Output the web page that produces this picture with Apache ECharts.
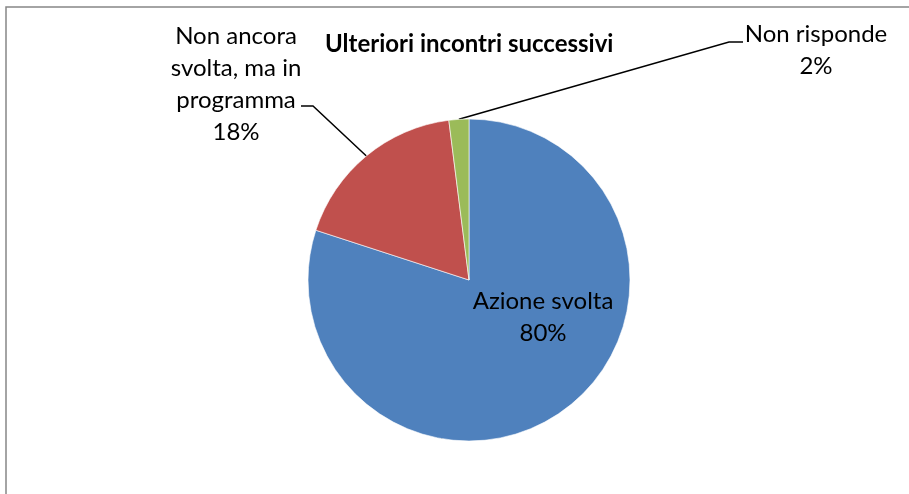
<!DOCTYPE html>
<html>
<head>
<meta charset="utf-8">
<style>
  html, body { margin: 0; padding: 0; background: #fff; }
  #pie-chart { width: 909px; height: 494px; }
</style>
<script src="https://cdn.jsdelivr.net/npm/echarts@6/dist/echarts.min.js"></script>
</head>
<body>
<div id="pie-chart"></div>
<script>
  const TITLE = 'Ulteriori incontri successivi';
  const categories = ['Azione svolta', 'Non ancora\nsvolta, ma in\nprogramma', 'Non risponde'];
  const values = [80, 18, 2];
  const colors = ['#4F81BD', '#C0504D', '#9BBB59'];

  const FONT = 'Lato, "Open Sans", sans-serif';

  // where Excel puts each label (centre of the text block)
  const labelSpots = [
    { x: 543, y: 317 },
    { x: 236, y: 84 },
    { x: 816, y: 50 }
  ];
  // knee of each leader line: [elbow, end]
  const leaderKnees = [
    null,
    [[313, 106], [301, 106]],
    [[729, 42], [743, 42]]
  ];

  const myChart = echarts.init(document.getElementById('pie-chart'));

  const option = {
    animation: false,
    title: {
      text: TITLE,
      left: 325,
      top: 32,
      padding: 0,
      textStyle: {
        fontFamily: FONT,
        fontSize: 24,
        fontWeight: 'bold',
        color: '#000'
      }
    },
    graphic: [
      {
        type: 'rect',
        shape: { x: 6, y: 7, width: 1000, height: 1000 },
        style: { fill: 'none', stroke: '#868686', lineWidth: 1.5 },
        silent: true
      }
    ],
    series: [
      {
        type: 'pie',
        center: [469, 280],
        radius: 161,
        startAngle: 90,
        clockwise: true,
        data: categories.map((name, i) => ({
          name: name,
          value: values[i],
          itemStyle: { color: colors[i] },
          label: { position: i === 0 ? 'inside' : 'outside' }
        })),
        itemStyle: { borderColor: '#fff', borderWidth: 0.6 },
        label: {
          formatter: '{b}\n{d}%',
          fontFamily: FONT,
          fontSize: 24,
          lineHeight: 32,
          color: '#000',
          align: 'center'
        },
        labelLine: {
          show: true,
          length: 20,
          length2: 10,
          lineStyle: { color: '#000', width: 1.5 }
        },
        labelLayout: function (params) {
          const i = params.dataIndex;
          const spot = labelSpots[i];
          const out = {
            x: spot.x,
            y: spot.y,
            align: 'center',
            verticalAlign: 'middle'
          };
          if (leaderKnees[i] && params.labelLinePoints) {
            const start = params.labelLinePoints[0];
            out.labelLinePoints = [[start[0], start[1]]].concat(leaderKnees[i]);
          }
          return out;
        }
      }
    ]
  };
  option && myChart.setOption(option);
</script>
</body>
</html>
